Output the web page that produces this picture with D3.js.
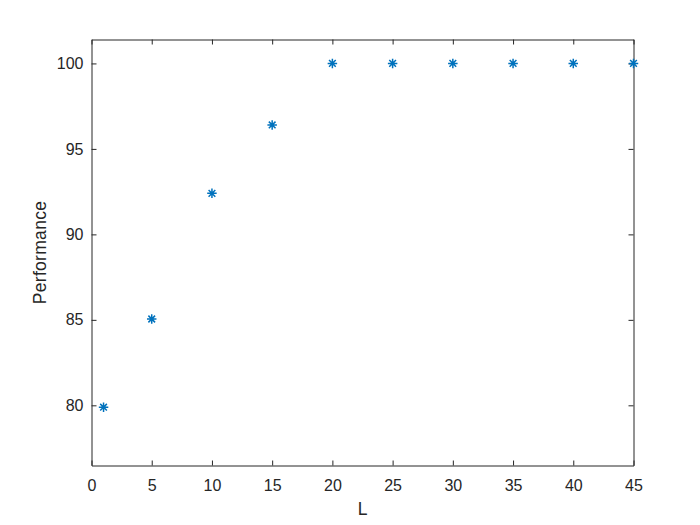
<!DOCTYPE html>
<html>
<head>
<meta charset="utf-8">
<script src="https://cdn.jsdelivr.net/npm/d3@7"></script>
<style>
body { margin: 0; background: #fff; }
text { font-family: "Liberation Sans", Arial, sans-serif; fill: #262626; }
</style>
</head>
<body>
<svg id="chart" width="700" height="525"></svg>
<script>
var L = [1, 5, 10, 15, 20, 25, 30, 35, 40, 45];
var performance = [79.89, 85.05, 92.4, 96.4, 100, 100, 100, 100, 100, 100];
var xTicks = [0, 5, 10, 15, 20, 25, 30, 35, 40, 45];
var yTicks = [80, 85, 90, 95, 100];

var svg = d3.select("#chart");
var plotLeft = 91.5, plotRight = 633.5, plotTop = 39.5, plotBottom = 465.5;

var x = d3.scaleLinear().domain([0, 45]).range([plotLeft, plotRight]);
var y = d3.scaleLinear().domain([76.48, 101.4]).range([plotBottom, plotTop]);

svg.append("rect")
    .attr("x", plotLeft).attr("y", plotTop)
    .attr("width", plotRight - plotLeft).attr("height", plotBottom - plotTop)
    .attr("fill", "#fff");

// axes, ticks pointing inward like matlab
svg.append("g")
    .attr("transform", "translate(0," + plotBottom + ")")
    .call(d3.axisBottom(x).tickValues(xTicks).tickSizeInner(-5).tickSizeOuter(0).tickPadding(14));
svg.append("g")
    .attr("transform", "translate(0," + plotTop + ")")
    .call(d3.axisTop(x).tickValues(xTicks).tickSizeInner(-5).tickSizeOuter(0).tickFormat(""));
svg.append("g")
    .attr("transform", "translate(" + plotLeft + ",0)")
    .call(d3.axisLeft(y).tickValues(yTicks).tickSizeInner(-5).tickSizeOuter(0).tickPadding(8));
svg.append("g")
    .attr("transform", "translate(" + plotRight + ",0)")
    .call(d3.axisRight(y).tickValues(yTicks).tickSizeInner(-5).tickSizeOuter(0).tickFormat(""));

svg.selectAll(".domain").attr("stroke", "#262626");
svg.selectAll(".tick line").attr("stroke", "#262626");
svg.selectAll(".tick text")
    .attr("fill", "#262626")
    .style("font-size", "16px")
    .style("font-family", "'Liberation Sans', Arial, sans-serif");

// 8-armed asterisk like matlab '*'
var asterisk8 = {
    draw: function(context, size) {
        var r = Math.sqrt(size) / 2, d = r * Math.SQRT1_2;
        context.moveTo(0, -r); context.lineTo(0, r);
        context.moveTo(-r, 0); context.lineTo(r, 0);
        context.moveTo(-d, -d); context.lineTo(d, d);
        context.moveTo(-d, d); context.lineTo(d, -d);
    }
};
var star = d3.symbol().type(asterisk8).size(90);
svg.selectAll(".pt")
    .data(L)
    .enter().append("path")
    .attr("class", "pt")
    .attr("transform", function(d, i) { return "translate(" + x(d) + "," + y(performance[i]) + ")"; })
    .attr("d", star)
    .attr("fill", "none")
    .attr("stroke", "#0072BD")
    .attr("stroke-width", 1.5);

svg.append("text")
    .attr("x", (plotLeft + plotRight) / 2).attr("y", 515)
    .attr("text-anchor", "middle")
    .style("font-size", "17.5px")
    .text("L");

svg.append("text")
    .attr("transform", "translate(46," + (plotTop + plotBottom) / 2 + ") rotate(-90)")
    .attr("text-anchor", "middle")
    .style("font-size", "17.5px")
    .style("letter-spacing", "0.3px")
    .text("Performance");
</script>
</body>
</html>
